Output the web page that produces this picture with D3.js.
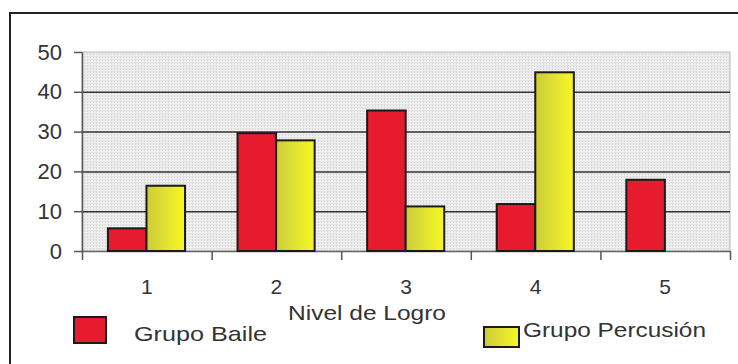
<!DOCTYPE html>
<html>
<head>
<meta charset="utf-8">
<script src="https://cdn.jsdelivr.net/npm/d3@7"></script>
<style>
  body { margin: 0; background: #fff; }
  svg { display: block; font-family: "Liberation Sans", Arial, sans-serif; }
</style>
</head>
<body>
<script>
const categories = ['1', '2', '3', '4', '5'];
const seriesNames = ['Grupo Baile', 'Grupo Percusión'];
const baile = [5.7, 29.6, 35.3, 11.8, 17.9];
const percusion = [16.4, 27.8, 11.2, 44.9, 0];
const yTicks = [0, 10, 20, 30, 40, 50];
const xTitle = 'Nivel de Logro';

const W = 738, H = 364;
const plot = { left: 82, right: 730, top: 52, bottom: 251 };

const svg = d3.select('body').append('svg')
  .attr('width', W)
  .attr('height', H);

const defs = svg.append('defs');

// dotted grey fill of the plot area
const pat = defs.append('pattern')
  .attr('id', 'dots')
  .attr('width', 3).attr('height', 3)
  .attr('patternUnits', 'userSpaceOnUse');
pat.append('rect').attr('width', 3).attr('height', 3).attr('fill', '#efefef');
pat.append('rect').attr('width', 1).attr('height', 1).attr('fill', '#d4d4d4');
pat.append('rect').attr('x', 0).attr('y', 2).attr('width', 3).attr('height', 1).attr('fill', '#e4e4e4');

const yellowGrad = defs.append('linearGradient')
  .attr('id', 'yellow')
  .attr('x1', '0%').attr('x2', '100%').attr('y1', '0%').attr('y2', '0%');
yellowGrad.append('stop').attr('offset', '0%').attr('stop-color', '#cccc3a');
yellowGrad.append('stop').attr('offset', '50%').attr('stop-color', '#e2e232');
yellowGrad.append('stop').attr('offset', '100%').attr('stop-color', '#f8f822');

const colors = ['#e61b2e', 'url(#yellow)'];

// outer frame (right and bottom edges fall outside the picture)
svg.append('rect')
  .attr('x', 10).attr('y', 13)
  .attr('width', 760).attr('height', 380)
  .attr('fill', 'none')
  .attr('stroke', '#222')
  .attr('stroke-width', 2);

const x = d3.scaleBand()
  .domain(categories)
  .range([plot.left, plot.right])
  .padding(0);

const xEdges = d3.scaleLinear()
  .domain([0, categories.length])
  .range([plot.left, plot.right]);

const bw = x.bandwidth();
const x1 = d3.scaleBand()
  .domain(seriesNames)
  .range([bw * 0.2, bw * 0.795])
  .padding(0);

const y = d3.scaleLinear()
  .domain([0, 50])
  .range([plot.bottom, plot.top]);

svg.append('rect')
  .attr('x', plot.left).attr('y', plot.top)
  .attr('width', plot.right - plot.left)
  .attr('height', plot.bottom - plot.top)
  .attr('fill', 'url(#dots)')
  .attr('stroke', '#b8b8b8')
  .attr('stroke-width', 1);

// grid lines
svg.append('g')
  .attr('transform', `translate(${plot.left},0)`)
  .call(d3.axisLeft(y).tickValues(yTicks.filter(d => d > 0 && d < 50))
    .tickSize(-(plot.right - plot.left)).tickFormat(''))
  .call(g => g.select('.domain').remove())
  .call(g => g.selectAll('line').attr('stroke', '#333').attr('stroke-width', 1.5));

// y axis
svg.append('g')
  .attr('transform', `translate(${plot.left},0)`)
  .call(d3.axisLeft(y).tickValues(yTicks).tickSizeInner(8).tickSizeOuter(0).tickPadding(12))
  .call(g => g.select('.domain').attr('stroke', '#555').attr('stroke-width', 1.5))
  .call(g => g.selectAll('line').attr('stroke', '#555').attr('stroke-width', 1.5))
  .call(g => g.selectAll('text')
    .attr('font-size', 22)
    .attr('fill', '#333')
    .attr('font-family', '"Liberation Sans", Arial, sans-serif'));

// x axis tick marks at category borders
svg.append('g')
  .attr('transform', `translate(0,${plot.bottom})`)
  .call(d3.axisBottom(xEdges).tickValues(d3.range(categories.length + 1))
    .tickSizeInner(9).tickSizeOuter(0).tickFormat(''))
  .call(g => g.select('.domain').attr('stroke', '#666').attr('stroke-width', 1.5))
  .call(g => g.selectAll('line').attr('stroke', '#555').attr('stroke-width', 1.5));

// x axis labels
svg.append('g')
  .attr('transform', `translate(0,${plot.bottom})`)
  .call(d3.axisBottom(x).tickSize(0).tickPadding(28))
  .call(g => g.select('.domain').remove())
  .call(g => g.selectAll('text')
    .attr('font-size', 21)
    .attr('fill', '#333')
    .attr('font-family', '"Liberation Sans", Arial, sans-serif'));

// bars
const seriesValues = [baile, percusion];
const barData = [];
categories.forEach((c, i) => {
  seriesNames.forEach((s, j) => {
    if (seriesValues[j][i] > 0) barData.push({ cat: c, series: s, idx: j, value: seriesValues[j][i] });
  });
});

svg.append('g')
  .selectAll('rect')
  .data(barData)
  .enter()
  .append('rect')
  .attr('x', d => x(d.cat) + x1(d.series))
  .attr('y', d => y(d.value))
  .attr('width', x1.bandwidth())
  .attr('height', d => y(0) - y(d.value))
  .attr('fill', d => colors[d.idx])
  .attr('stroke', '#1a1a1a')
  .attr('stroke-width', 2);

// axis title
svg.append('text')
  .attr('x', 288)
  .attr('y', 320)
  .attr('font-size', 20)
  .attr('fill', '#333')
  .attr('textLength', 158)
  .attr('lengthAdjust', 'spacingAndGlyphs')
  .text(xTitle);

// legend
const legend = [
  { name: seriesNames[0], color: colors[0], sx: 74, sy: 317, sw: 32, sh: 26, tx: 134, ty: 341, tl: 133 },
  { name: seriesNames[1], color: colors[1], sx: 484, sy: 327, sw: 35, sh: 20, tx: 523, ty: 337, tl: 183 }
];

const lg = svg.append('g').selectAll('g')
  .data(legend)
  .enter()
  .append('g');

lg.append('rect')
  .attr('x', d => d.sx).attr('y', d => d.sy)
  .attr('width', d => d.sw).attr('height', d => d.sh)
  .attr('fill', d => d.color)
  .attr('stroke', '#1a1a1a')
  .attr('stroke-width', 2);

lg.append('text')
  .attr('x', d => d.tx).attr('y', d => d.ty)
  .attr('font-size', 21)
  .attr('fill', '#333')
  .attr('textLength', d => d.tl)
  .attr('lengthAdjust', 'spacingAndGlyphs')
  .text(d => d.name);
</script>
</body>
</html>
